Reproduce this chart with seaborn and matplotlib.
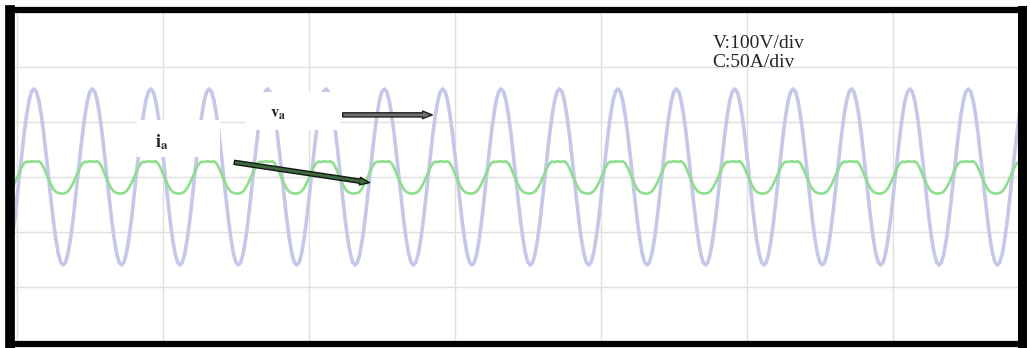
import seaborn as sns
import pandas as pd
import numpy as np
import matplotlib.pyplot as plt
from matplotlib.patches import Rectangle

# readings from the scope trace (one cycle, 24 samples starting at a voltage crest)
volt_cycle = [160, 155, 139, 113, 80, 41, 0, -41, -80, -113, -139, -155,
              -160, -155, -139, -113, -80, -41, 0, 41, 80, 113, 139, 155]
curr_cycle = [14, 13.8, 14.3, 12.5, 8.5, 3, -2, -7, -11, -13.5, -14.5, -15,
              -15, -14.5, -13, -10, -6, -1, 4, 9, 12.5, 14, 13.6, 14.3]
period_ms = 20.0
first_crest_ms = 5.8
n_cycles = 19
volt_per_div = 100
amp_per_div = 50

sns.set_style('white')
plt.rcParams['font.family'] = ['Liberation Serif', 'DejaVu Serif']
plt.rcParams['mathtext.fontset'] = 'stix'

n = len(volt_cycle)
t = first_crest_ms - period_ms + np.arange(n * n_cycles + 1) * period_ms / n
v = np.array(volt_cycle * n_cycles + volt_cycle[:1], dtype=float)
i = np.array(curr_cycle * n_cycles + curr_cycle[:1], dtype=float)
df = pd.DataFrame({'t': t, 'v': v, 'i_scaled': i * volt_per_div / amp_per_div})

fig = plt.figure(figsize=(10.3, 3.48), dpi=100)
ax = fig.add_axes([10 / 1030, 4 / 348, 1012 / 1030, 334 / 348])

sns.lineplot(data=df, x='t', y='v', ax=ax, color='#c5c8e8', lw=2.6, sort=False)
sns.lineplot(data=df, x='t', y='i_scaled', ax=ax, color='#8ede8e', lw=1.9, sort=False)

ax.set_xlim(-2.4, 344.2)
ax.set_ylim(-303.6, 303.6)
ax.set_xticks(np.arange(0, 344, 50))
ax.set_yticks(np.arange(-200, 201, 100))
ax.grid(True, color='#e0e0e0', lw=1)
ax.tick_params(length=0, labelbottom=False, labelleft=False)
ax.set_xlabel('')
ax.set_ylabel('')
for side, w in {'left': 7, 'right': 6.5, 'top': 4.5, 'bottom': 4.5}.items():
    ax.spines[side].set_color('black')
    ax.spines[side].set_linewidth(w)

# white label boxes
ax.add_patch(Rectangle((0.1255, 0.56), 0.082, 0.111, transform=ax.transAxes,
                       fc='white', ec='none', zorder=5))
ax.add_patch(Rectangle((0.2322, 0.641), 0.094, 0.114, transform=ax.transAxes,
                       fc='white', ec='none', zorder=5))
ax.text(0.15, 0.605, r'$\mathbf{i}_\mathbf{a}$', transform=ax.transAxes,
        fontsize=13, ha='center', va='center', zorder=6)
ax.text(0.265, 0.69, r'$\mathbf{v}_\mathbf{a}$', transform=ax.transAxes,
        fontsize=12, ha='center', va='center', zorder=6)

ax.annotate('', xy=(0.420, 0.686), xytext=(0.326, 0.686),
            xycoords='axes fraction', textcoords='axes fraction',
            arrowprops=dict(arrowstyle='simple,head_width=0.55,head_length=0.7,tail_width=0.3',
                            fc='#707070', ec='#202020', lw=1), zorder=6)
ax.annotate('', xy=(0.358, 0.482), xytext=(0.219, 0.545),
            xycoords='axes fraction', textcoords='axes fraction',
            arrowprops=dict(arrowstyle='simple,head_width=0.55,head_length=0.7,tail_width=0.3',
                            fc='#3d6b3d', ec='#151515', lw=1), zorder=6)

ax.text(0.694, 0.90, 'V:100V/div', transform=ax.transAxes, fontsize=14,
        ha='left', va='center', color='#262626')
ax.text(0.694, 0.843, 'C:50A/div', transform=ax.transAxes, fontsize=14,
        ha='left', va='center', color='#262626')

fig.savefig('out.png', dpi=100)
